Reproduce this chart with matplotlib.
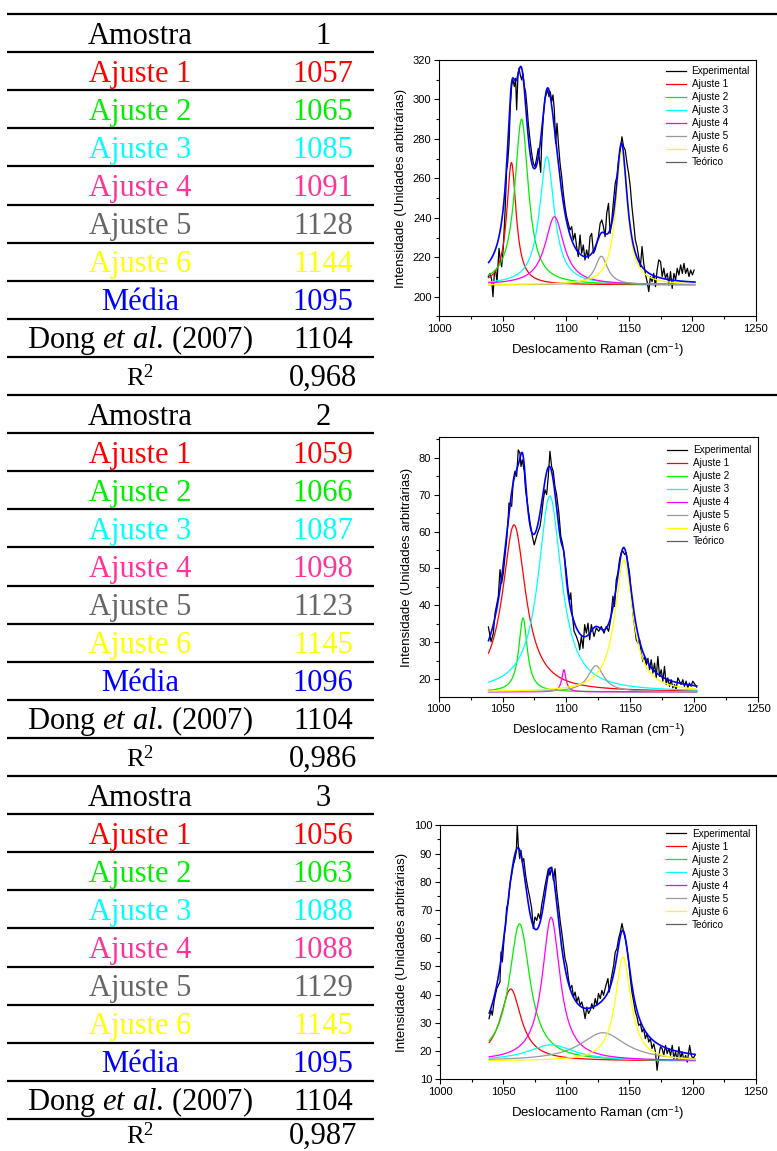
import numpy as np
import matplotlib
matplotlib.use("Agg")
import matplotlib.pyplot as plt
from matplotlib.lines import Line2D
from matplotlib.ticker import MultipleLocator

plt.rcParams["mathtext.fontset"] = "custom"
plt.rcParams["mathtext.rm"] = "Liberation Serif"
plt.rcParams["mathtext.it"] = "Liberation Serif:italic"
plt.rcParams["mathtext.sf"] = "Liberation Sans"

# ---------------------------------------------------------------- table data
sample_ids = ["1", "2", "3"]
fit_names = ["Ajuste 1", "Ajuste 2", "Ajuste 3", "Ajuste 4", "Ajuste 5", "Ajuste 6"]
centers_1 = [1057, 1065, 1085, 1091, 1128, 1144]
centers_2 = [1059, 1066, 1087, 1098, 1123, 1145]
centers_3 = [1056, 1063, 1088, 1088, 1129, 1145]
dong_2007 = 1104
r2_values = ["0,968", "0,986", "0,987"]

# ------------------------------------------------ Lorentzian fit parameters
amps_1 = [62.0, 84.0, 65.0, 34.5, 14.5, 67.5]
fwhm_1 = [9.0, 13.0, 14.0, 18.0, 12.0, 11.0]
base_1 = 206.0

amps_2 = [45.2, 20.0, 53.0, 6.0, 7.1, 35.7]
fwhm_2 = [22.0, 8.0, 22.0, 4.0, 15.0, 17.0]
base_2 = 16.6

amps_3 = [25.5, 48.6, 5.7, 50.9, 10.0, 36.8]
fwhm_3 = [20.0, 20.0, 45.0, 17.0, 44.0, 15.0]
base_3 = 16.5

# ------------------------------------------------------ measured spectra
exp1_x = [1038.7, 1040.1, 1041.4, 1042.4, 1043.5, 1044.5, 1045.6, 1047.2, 1048.2, 1049.3,
          1050.6, 1051.9, 1053.2, 1054.0, 1055.1, 1056.1, 1057.2, 1058.2, 1059.3, 1060.3,
          1061.1, 1062.2, 1063.0, 1064.0, 1065.1, 1066.1, 1067.2, 1068.2, 1069.3, 1070.3,
          1071.7, 1073.0, 1074.3, 1075.6, 1076.9, 1078.2, 1079.0, 1080.1, 1080.9, 1082.2,
          1083.5, 1084.8, 1085.6, 1086.7, 1087.7, 1088.8, 1089.8, 1090.9, 1091.9, 1093.0,
          1094.1, 1095.4, 1096.7, 1098.0, 1099.3, 1100.6, 1101.9, 1103.3, 1104.6, 1105.9,
          1107.2, 1108.5, 1109.8, 1111.2, 1112.5, 1113.8, 1115.1, 1116.4, 1117.8, 1119.1,
          1120.4, 1121.8, 1123.1, 1124.4, 1125.7, 1127.1, 1128.4, 1129.7, 1131.0, 1132.3,
          1133.7, 1135.0, 1136.3, 1137.7, 1139.0, 1140.3, 1141.6, 1143.0, 1144.3, 1145.6,
          1146.9, 1148.3, 1149.6, 1150.9, 1152.2, 1153.6, 1154.9, 1156.2, 1157.5, 1158.9,
          1160.2, 1161.5, 1162.8, 1164.2, 1165.5, 1166.8, 1168.1, 1169.4, 1170.8, 1172.1,
          1173.4, 1174.8, 1176.1, 1177.4, 1178.7, 1180.1, 1181.4, 1182.7, 1184.0, 1185.4,
          1186.7, 1188.0, 1189.3, 1190.7, 1192.0, 1193.3, 1194.6, 1196.0, 1197.3, 1198.6,
          1200.0, 1201.3]
exp1_y = [210.2, 211.8, 208.5, 200.0, 211.8, 213.5, 207.6, 224.5, 218.6, 215.2,
          225.4, 242.3, 264.2, 267.6, 277.8, 296.3, 307.3, 309.9, 306.5, 310.7,
          294.7, 313.2, 315.8, 312.4, 309.9, 313.2, 306.5, 303.9, 296.3, 287.9,
          279.4, 272.7, 267.6, 265.9, 270.1, 275.2, 270.1, 263.0, 277.8, 291.3,
          300.6, 303.1, 304.8, 301.4, 303.9, 298.9, 302.3, 294.7, 277.8, 287.9,
          277.8, 267.6, 260.9, 252.4, 245.6, 240.6, 237.2, 233.8, 235.5, 228.7,
          232.1, 225.4, 220.3, 231.3, 222.0, 226.2, 218.6, 223.7, 219.5, 230.4,
          232.1, 222.0, 223.7, 227.1, 230.4, 237.2, 238.9, 235.5, 230.4, 242.3,
          247.3, 232.1, 238.9, 249.0, 257.5, 260.9, 269.3, 274.4, 281.1, 276.1,
          274.4, 267.6, 262.5, 255.8, 245.6, 237.2, 228.7, 225.4, 220.3, 215.2,
          225.4, 216.9, 211.8, 207.6, 202.6, 210.2, 207.6, 211.8, 205.1, 213.5,
          218.6, 217.8, 210.2, 214.4, 209.3, 211.8, 205.9, 212.7, 204.2, 211.8,
          208.5, 214.4, 211.0, 216.1, 211.8, 216.9, 211.8, 214.4, 210.2, 213.5,
          211.0, 213.5]

exp2_x = [1038.9, 1041.0, 1042.8, 1044.1, 1046.7, 1048.0, 1049.3, 1050.6, 1053.2, 1054.5,
          1055.0, 1057.1, 1058.4, 1059.7, 1061.0, 1062.3, 1063.6, 1064.4, 1065.4, 1067.0,
          1068.0, 1069.6, 1071.4, 1073.3, 1074.8, 1075.9, 1077.4, 1079.3, 1080.6, 1081.9,
          1083.2, 1084.5, 1085.8, 1087.1, 1088.4, 1089.7, 1091.0, 1092.3, 1094.1, 1095.6,
          1096.9, 1098.7, 1100.0, 1101.3, 1102.6, 1103.4, 1104.5, 1106.0, 1107.8, 1109.6,
          1110.4, 1111.7, 1113.0, 1114.3, 1115.6, 1116.9, 1118.2, 1119.5, 1121.6, 1123.4,
          1125.3, 1127.3, 1129.4, 1131.2, 1133.0, 1134.6, 1136.4, 1137.7, 1139.0, 1140.3,
          1141.6, 1142.9, 1144.2, 1145.5, 1146.8, 1148.1, 1149.4, 1150.7, 1152.1, 1153.4,
          1154.7, 1156.0, 1157.3, 1158.6, 1159.9, 1161.2, 1162.5, 1163.8, 1165.1, 1166.4,
          1167.7, 1169.0, 1170.3, 1171.6, 1172.9, 1174.2, 1175.5, 1176.8, 1178.1, 1179.4,
          1180.7, 1182.0, 1183.3, 1184.6, 1185.9, 1187.2, 1188.5, 1189.8, 1191.1, 1192.4,
          1193.7, 1195.0, 1196.3, 1197.6, 1198.9, 1200.7, 1202.0]
exp2_y = [34.2, 30.2, 32.5, 37.9, 42.5, 49.7, 46.0, 48.8, 57.8, 64.1,
          67.7, 66.8, 74.0, 76.3, 74.9, 82.1, 81.2, 77.6, 79.4, 76.3,
          71.3, 67.2, 62.7, 58.7, 56.4, 57.8, 59.6, 61.4, 64.5, 68.6,
          71.3, 70.0, 74.9, 81.7, 77.6, 76.3, 72.2, 70.0, 65.0, 58.7,
          56.9, 52.4, 48.8, 44.3, 41.6, 43.4, 37.9, 33.0, 31.6, 29.8,
          28.0, 31.6, 28.4, 34.8, 32.5, 35.2, 30.7, 34.8, 31.6, 33.9,
          33.0, 34.3, 32.5, 34.3, 33.0, 36.1, 42.5, 39.7, 46.9, 48.8,
          52.4, 54.2, 54.7, 53.8, 54.2, 51.5, 48.8, 43.4, 37.9, 34.3,
          30.7, 29.8, 30.7, 27.1, 24.8, 26.2, 23.9, 25.7, 22.6, 25.3,
          21.7, 24.4, 20.4, 26.2, 20.8, 22.6, 19.5, 23.5, 18.6, 20.4,
          18.1, 19.9, 17.7, 18.6, 17.2, 20.4, 19.5, 18.6, 19.9, 18.1,
          19.5, 17.7, 19.0, 18.1, 19.5, 18.6, 17.9]

exp3_x = [1038.8, 1040.4, 1041.4, 1043.0, 1044.9, 1046.2, 1047.5, 1048.3, 1049.4, 1050.9,
          1052.0, 1052.7, 1054.1, 1055.4, 1056.7, 1058.0, 1059.4, 1060.4, 1061.2, 1062.0,
          1063.1, 1064.1, 1065.2, 1066.3, 1067.8, 1069.4, 1071.0, 1072.6, 1073.9, 1075.2,
          1076.6, 1077.9, 1079.2, 1080.5, 1081.9, 1083.2, 1084.8, 1085.8, 1087.1, 1088.5,
          1089.8, 1091.1, 1092.4, 1093.8, 1095.1, 1096.4, 1097.7, 1099.0, 1100.4, 1101.7,
          1103.0, 1104.4, 1105.7, 1107.0, 1108.3, 1109.6, 1111.0, 1112.3, 1113.6, 1114.9,
          1116.3, 1117.6, 1118.9, 1120.2, 1121.6, 1122.9, 1124.2, 1125.5, 1126.9, 1128.2,
          1129.5, 1131.4, 1133.0, 1134.0, 1135.6, 1137.5, 1138.8, 1140.1, 1141.4, 1142.8,
          1144.1, 1145.4, 1146.7, 1148.1, 1149.4, 1150.7, 1152.0, 1153.4, 1154.7, 1156.0,
          1157.3, 1158.7, 1160.0, 1161.3, 1162.6, 1164.0, 1165.3, 1166.6, 1167.9, 1169.3,
          1170.6, 1171.9, 1173.3, 1174.6, 1175.9, 1177.2, 1178.6, 1179.9, 1181.2, 1182.6,
          1183.9, 1185.2, 1186.5, 1187.9, 1189.2, 1190.5, 1191.8, 1193.2, 1194.5, 1195.8,
          1197.7, 1199.0, 1200.3, 1201.9]
exp3_y = [31.5, 34.4, 32.7, 38.0, 42.1, 43.3, 44.5, 55.1, 51.6, 61.0,
          64.6, 70.5, 72.8, 79.3, 82.3, 85.8, 88.2, 90.6, 100.0, 92.9,
          88.2, 91.1, 87.0, 88.2, 82.3, 78.1, 74.6, 70.5, 63.4, 67.5,
          66.3, 68.7, 66.9, 71.7, 75.2, 78.7, 82.3, 84.6, 82.3, 85.2,
          80.5, 84.6, 77.0, 71.7, 66.3, 62.2, 57.5, 52.8, 50.4, 45.7,
          42.1, 43.3, 39.2, 40.9, 37.4, 39.2, 36.2, 37.4, 35.0, 31.5,
          35.6, 33.3, 34.4, 36.8, 35.0, 38.6, 36.2, 40.4, 38.6, 41.5,
          39.8, 43.3, 45.7, 40.9, 45.7, 50.4, 55.1, 56.3, 59.8, 62.2,
          65.2, 62.2, 59.8, 56.3, 51.6, 45.7, 40.9, 37.4, 33.9, 32.1,
          29.1, 29.7, 26.8, 28.0, 24.4, 26.2, 23.2, 24.4, 20.9, 22.6,
          19.7, 13.2, 18.5, 21.5, 20.9, 18.5, 22.0, 19.1, 20.9, 18.5,
          22.0, 17.3, 19.7, 16.7, 21.5, 17.3, 19.7, 16.7, 18.5, 16.1,
          22.0, 18.5, 17.3, 18.5]

# ---------------------------------------------------------------- styling
SERIF = "Liberation Serif"
SANS = "Liberation Sans"
text_colors = ["black", "#FF0000", "#00EE00", "#00FFFF", "#FF3399",
               "#666666", "#FFFF00", "#0000FF", "black", "black"]
curve_colors = ["#FF0000", "#00EE00", "#00FFFF", "#FF00FF", "#999999", "#FFFF00"]

W, H = 777, 1151
fig = plt.figure(figsize=(W / 100, H / 100), dpi=100)

# ---------------------------------------------------------------- tables
tax = fig.add_axes([0, 0, 1, 1])
tax.set_xlim(0, W)
tax.set_ylim(H, 0)
tax.axis("off")

table_tops = [14, 395, 776]
pitch = 38.1
col_left, col_right = 140, 323
x_start, x_row_end = 7, 374

all_centers = [centers_1, centers_2, centers_3]
for t in range(3):
    top = table_tops[t]
    tax.hlines(top, x_start, W, color="black", lw=1.6)
    for k in range(1, 10):
        tax.hlines(top + pitch * k, x_start, x_row_end, color="black", lw=1.6)
    cents = all_centers[t]
    media = int(round(np.mean(cents)))
    left_txt = ["Amostra"] + fit_names + ["Média", r"Dong $et$ $al$. (2007)", r"R$^2$"]
    right_txt = [sample_ids[t]] + [str(c) for c in cents] + [str(media), str(dong_2007), r2_values[t]]
    for k in range(10):
        base_y = top + pitch * (k + 1) - (9.5 if k == 9 else 8.5)
        base_y = min(base_y, H - 7)
        lsize = 19 if k == 9 else 22
        tax.text(col_left, base_y, left_txt[k], ha="center", va="baseline",
                 fontsize=lsize, family=SERIF, color=text_colors[k])
        tax.text(col_right, base_y, right_txt[k], ha="center", va="baseline",
                 fontsize=22, family=SERIF, color=text_colors[k])

# ---------------------------------------------------------------- spectra
def lorentz(x, c, a, w):
    return a / (1.0 + ((x - c) / (w / 2.0)) ** 2)


def spectrum_panel(rect, ex, ey, cents, amps, fwhm, base, ylim, ystep, yminor, leg_top):
    ax = fig.add_axes(rect)
    xs = np.linspace(1039, 1202, 600)
    ax.plot(ex, ey, color="black", lw=0.9, label="Experimental", zorder=2)
    total = np.full_like(xs, base)
    for i in range(6):
        comp = lorentz(xs, cents[i], amps[i], fwhm[i])
        total += comp
        ax.plot(xs, base + comp, color=curve_colors[i], lw=0.9,
                label=fit_names[i], zorder=3)
    ax.plot(xs, total, color="#0000FF", lw=1.2, zorder=4)

    ax.set_xlim(1000, 1250)
    ax.set_ylim(*ylim)
    ax.xaxis.set_major_locator(MultipleLocator(50))
    ax.xaxis.set_minor_locator(MultipleLocator(25))
    ax.yaxis.set_major_locator(MultipleLocator(ystep))
    ax.yaxis.set_minor_locator(MultipleLocator(yminor))
    ax.tick_params(which="both", direction="out", top=False, right=False,
                   width=0.8, pad=2, labelsize=8)
    ax.tick_params(which="major", length=3.6)
    ax.tick_params(which="minor", length=2.2)
    for lab in ax.get_xticklabels() + ax.get_yticklabels():
        lab.set_family(SANS)
    for sp in ax.spines.values():
        sp.set_linewidth(0.8)
    ax.set_xlabel("Deslocamento Raman (cm$^{\\mathsf{-1}}$)", family=SANS,
                  fontsize=9.5, labelpad=5)
    ax.set_ylabel("Intensidade (Unidades arbitrárias)", family=SANS,
                  fontsize=9.5, labelpad=4)

    handles, labels = ax.get_legend_handles_labels()
    handles.append(Line2D([], [], color="#606060", lw=0.9))
    labels.append("Teórico")
    ax.legend(handles, labels, loc="upper left", bbox_to_anchor=(0.7165, leg_top),
              frameon=False, prop={"family": SANS, "size": 7.2},
              handlelength=2.0, handletextpad=0.55, labelspacing=0.3,
              borderpad=0, borderaxespad=0)
    return ax


spectrum_panel([439.3 / W, 1 - 316.4 / H, 316.4 / W, 256.4 / H],
               exp1_x, exp1_y, centers_1, amps_1, fwhm_1, base_1,
               (190, 320), 20, 10, 0.975)
spectrum_panel([438.7 / W, 1 - 696.7 / H, 319.3 / W, 259.4 / H],
               exp2_x, exp2_y, centers_2, amps_2, fwhm_2, base_2,
               (15.3, 85.5), 10, 5, 0.97)
spectrum_panel([440.0 / W, 1 - 1079.3 / H, 315.7 / W, 254.0 / H],
               exp3_x, exp3_y, centers_3, amps_3, fwhm_3, base_3,
               (10, 100), 10, 5, 0.986)

fig.savefig("out.png", dpi=100)
